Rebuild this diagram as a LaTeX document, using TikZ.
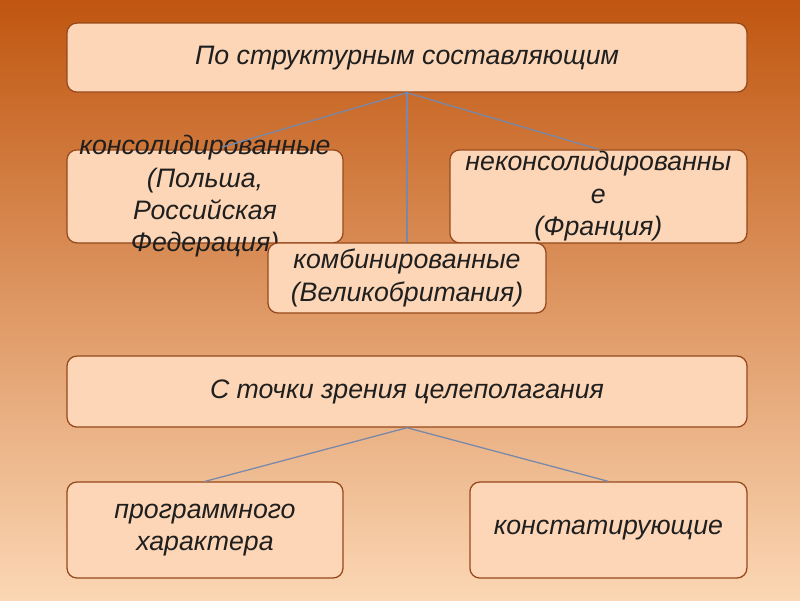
\documentclass[tikz,border=0pt]{standalone}
\usepackage{fontspec}
\setmainfont{Liberation Sans}
\usetikzlibrary{positioning, calc}
\definecolor{cTop}{RGB}{192,86,16}
\definecolor{cMid}{RGB}{242,182,130}
\definecolor{cBot}{RGB}{251,215,180}
\definecolor{cBox}{RGB}{252,214,182}
\definecolor{cEdge}{RGB}{150,72,28}
\definecolor{cLink}{RGB}{120,136,170}
\tikzset{
	catbox/.style ={rectangle, rounded corners=7pt, draw=cEdge, line width=0.9pt, fill=cBox, inner sep=0pt},
	cattext/.style={align=center, text=black!88, font=\itshape\fontsize{19}{23}\selectfont},
	link/.style   ={draw=cLink, line width=0.9pt},
}
\begin{document}
\begin{tikzpicture}
	% background
	\shade[top color=cTop, middle color=cMid, bottom color=cBot] (0,0) rectangle (20,-15);
	\useasboundingbox (0,0) rectangle (20,-15);
	% first group
	\node[catbox, minimum width=17cm, minimum height=1.725cm] (struct) at (10.175,-1.44) {};
	\node[cattext] (struct-t) at (struct) {По структурным составляющим};
	\node[catbox, minimum width=6.9cm, minimum height=2.325cm] (cons) at (5.125,-4.91) {};
	\node[cattext] (cons-t) at (cons) {консолидированные\\(Польша,\\Российская\\Федерация)};
	\node[catbox, minimum width=7.425cm, minimum height=2.325cm] (noncons) at (14.96,-4.91) {};
	\node[cattext] (noncons-t) at (noncons) {неконсолидированны\\е\\(Франция)};
	\node[catbox, minimum width=6.95cm, minimum height=1.75cm] (comb) at (10.175,-6.95) {};
	\node[cattext] (comb-t) at (comb) {комбинированные\\(Великобритания)};
	% second group
	\node[catbox, minimum width=17cm, minimum height=1.775cm] (goal) at (10.175,-9.79) {};
	\node[cattext] (goal-t) at (goal) {С точки зрения целеполагания};
	\node[catbox, minimum width=6.9cm, minimum height=2.4cm] (prog) at (5.125,-13.25) {};
	\node[cattext] (prog-t) at (prog) {программного\\характера};
	\node[catbox, minimum width=6.925cm, minimum height=2.4cm] (stat) at (15.21,-13.25) {};
	\node[cattext] (stat-t) at (stat) {констатирующие};
	% connectors
	\draw[link] (struct.south) -- ($(cons.north)+(0.42,0.05)$);
	\draw[link] (struct.south) -- (comb.north);
	\draw[link] (struct.south) -- (noncons.north);
	\foreach \n in {prog, stat}
		\draw[link] (goal.south) -- (\n.north);
\end{tikzpicture}
\end{document}
